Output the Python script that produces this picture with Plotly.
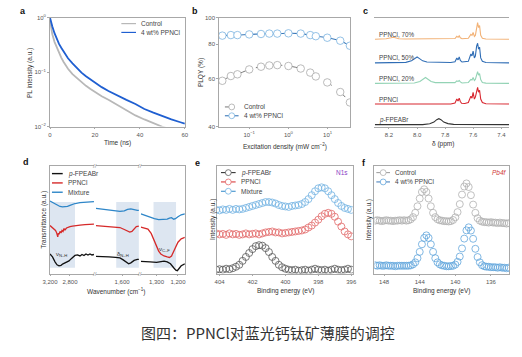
import plotly.graph_objects as go
import math

W, H = 522, 357
def px(x): return x / W
def py(y): return 1 - y / H

# ---------------- data ----------------
# (a) TRPL decay
a_time = [0, 0.5, 1, 2, 3, 4, 5, 6, 8, 10, 12, 14, 16, 18, 20, 23, 26, 30, 34, 38, 42, 46, 50, 54, 58, 60]
a_control = [0.9, 0.62, 0.50, 0.36, 0.28, 0.22, 0.185, 0.155, 0.115, 0.092, 0.077, 0.065, 0.056, 0.049, 0.043,
             0.036, 0.031, 0.025, 0.0205, 0.016, 0.0135, 0.0115, 0.0099, 0.0088, 0.0081, 0.0078]
a_ppncl = [1.0, 0.82, 0.70, 0.52, 0.41, 0.33, 0.28, 0.24, 0.18, 0.145, 0.118, 0.098, 0.084, 0.073, 0.064,
           0.053, 0.045, 0.037, 0.031, 0.026, 0.021, 0.018, 0.0155, 0.0135, 0.012, 0.0113]

# (b) PLQY vs excitation density
b_density = [0.0206, 0.034, 0.05, 0.1, 0.2, 0.325, 0.52, 1.0, 2.06, 3.6, 5.0, 9.8, 21, 37]
b_control = [58.8, 61.2, 62.1, 64.7, 66.2, 66.9, 67.1, 66.6, 65.2, 63.0, 61.0, 58.0, 53.5, 49.0]
b_ppncl = [86.0, 86.4, 86.4, 86.9, 87.2, 87.5, 87.5, 87.7, 87.5, 86.4, 85.6, 84.5, 82.4, 79.0]

# (c) 1H NMR
c_names = ["p-FPEABr", "PPNCl", "PPNCl, 20%", "PPNCl, 50%", "PPNCl, 70%"]
c_ppm = [
    [8.30, 7.96, 7.91, 7.88, 7.86, 7.845, 7.83, 7.81, 7.78, 7.74, 7.345],
    [8.30, 7.76, 7.73, 7.717, 7.708, 7.700, 7.692, 7.683, 7.66, 7.635, 7.617, 7.609, 7.601, 7.592, 7.585,
     7.576, 7.569, 7.562, 7.555, 7.547, 7.535, 7.51, 7.345],
    [8.30, 8.02, 7.98, 7.955, 7.94, 7.925, 7.90, 7.87, 7.76, 7.73, 7.717, 7.708, 7.700, 7.692, 7.68,
     7.635, 7.617, 7.609, 7.601, 7.592, 7.585, 7.576, 7.569, 7.562, 7.555, 7.547, 7.535, 7.51, 7.345],
    [8.30, 8.08, 8.04, 8.015, 8.0, 7.985, 7.96, 7.93, 7.76, 7.73, 7.717, 7.708, 7.700, 7.692, 7.68,
     7.635, 7.617, 7.609, 7.601, 7.592, 7.585, 7.576, 7.569, 7.562, 7.555, 7.547, 7.535, 7.51, 7.345],
    [8.30, 8.22, 8.185, 8.17, 8.155, 8.13, 8.08, 7.76, 7.73, 7.717, 7.708, 7.700, 7.692, 7.68,
     7.635, 7.617, 7.609, 7.601, 7.592, 7.585, 7.576, 7.569, 7.562, 7.555, 7.547, 7.535, 7.51, 7.345],
]
c_int = [
    [0, 0, 0.8, 2.5, 5, 6, 5, 2.5, 1, 0.2, 0],
    [0, 0, 1, 5, 3, 6, 2.5, 0.8, 0.5, 1.5, 8, 6, 12, 5, 7, 15, 17, 12, 14, 5, 1.5, 0.3, 0],
    [0, 0.5, 2, 4.5, 6, 4.5, 2, 0.8, 0.3, 0.8, 2.5, 2, 3, 1.5, 0.5, 1, 4, 3.5, 6, 3, 4, 9, 12, 8.5, 10, 4, 1, 0.3, 0],
    [0, 0.5, 2, 4.5, 6, 4.5, 2, 0.8, 0.3, 1, 5, 3, 6, 2.5, 0.8, 1.5, 9, 7, 12, 5, 7, 17, 20, 14, 16, 5, 1.5, 0.3, 0],
    [0, 0.5, 1.5, 2, 1.5, 0.6, 0.3, 0.3, 0.8, 3, 2, 3.5, 1.5, 0.5, 1, 5, 4, 7, 3, 4, 13, 17, 12, 14, 4, 1, 0.3, 0],
]
c_offsets = [2, 23, 44, 65, 89]

# (d) FTIR, three wavenumber windows
d_names = ["p-FPEABr", "PPNCl", "Mixture"]
d_wn1 = {
    "p-FPEABr": [3200, 3150, 3100, 3060, 3020, 2980, 2940, 2900, 2860, 2820, 2780, 2740, 2700, 2650, 2600,
                 2560, 2520, 2480, 2440, 2400, 2360, 2320],
    "PPNCl": [3200, 3150, 3120, 3090, 3070, 3055, 3045, 3035, 3020, 3000, 2980, 2960, 2940, 2920, 2900,
              2870, 2850, 2800, 2750, 2700, 2600, 2500, 2400, 2320],
    "Mixture": [3200, 3150, 3100, 3050, 3000, 2950, 2900, 2850, 2800, 2750, 2700, 2600, 2500, 2400, 2320],
}
d_tr1 = {
    "p-FPEABr": [20, 17, 12, 9, 8, 8.5, 10, 11, 12, 13, 15, 17, 18.5, 19, 18, 19.5, 18.5, 20, 19, 20, 19, 19.5],
    "PPNCl": [49, 47, 45, 44, 42, 38, 37.5, 41, 40, 43, 41.5, 44, 43, 46, 44.5, 46.5, 47, 48, 48.5, 49, 49.5,
              50, 50.5, 50.5],
    "Mixture": [74, 72.5, 71, 69.5, 68.5, 68, 68, 68.5, 69.5, 70.5, 71.5, 72.5, 73, 73.5, 73.5],
}
d_wn2 = {
    "p-FPEABr": [1720, 1690, 1660, 1630, 1610, 1595, 1580, 1570, 1560, 1545, 1530, 1523],
    "PPNCl": [1720, 1690, 1660, 1630, 1610, 1590, 1575, 1565, 1555, 1545, 1535, 1523],
    "Mixture": [1720, 1690, 1660, 1630, 1610, 1590, 1575, 1560, 1545, 1530, 1523],
}
d_tr2 = {
    "p-FPEABr": [17.5, 17.5, 17, 16.5, 16, 14, 11, 10, 11, 13.5, 14.5, 14.5],
    "PPNCl": [49, 48.5, 48, 47.5, 47, 45, 43, 42.3, 43, 46, 48, 48.5],
    "Mixture": [66.5, 65.5, 64.5, 63.5, 63.5, 64, 65.5, 66, 65, 64.5, 64.5],
}
d_wn3 = {
    "p-FPEABr": [1373, 1350, 1330, 1300, 1280, 1265, 1250, 1235, 1220, 1210, 1203, 1195, 1185, 1168],
    "PPNCl": [1373, 1350, 1340, 1325, 1310, 1300, 1290, 1280, 1265, 1250, 1240, 1230, 1220, 1210, 1200, 1185, 1168],
    "Mixture": [1373, 1350, 1330, 1310, 1290, 1270, 1250, 1240, 1230, 1220, 1212, 1200, 1185, 1168],
}
d_tr3 = {
    "p-FPEABr": [12.5, 12.5, 12, 11.5, 12, 12.8, 12, 10, 6, 3.5, 3, 5, 8, 10],
    "PPNCl": [47.5, 46.5, 45.5, 41, 33, 28, 23, 20, 18, 17, 16.5, 18, 23, 28.5, 32, 35.5, 37],
    "Mixture": [61, 59, 57.5, 56, 55, 55, 55.5, 56.5, 57, 55.5, 56, 58, 60, 61],
}
d_bands = [(3200, 2700), (1627, 1523), (1314, 1209)]
d_band_labels = ["ν<sub>N–H</sub>", "δ<sub>N–H</sub>", "ν<sub>C–F</sub>"]

# (e) XPS N1s
e_energy = [404.2, 404.0, 403.8, 403.6, 403.4, 403.2, 403.0, 402.8, 402.6, 402.4, 402.2, 402.0, 401.8, 401.6,
            401.4, 401.2, 401.0, 400.8, 400.6, 400.4, 400.2, 400.0, 399.8, 399.6, 399.4, 399.2, 399.0, 398.8,
            398.6, 398.4, 398.2, 398.0, 397.8, 397.6, 397.4, 397.2, 397.0, 396.8, 396.6, 396.4, 396.2, 396.0]
e_fpeabr = [4, 4.5, 4, 5, 4.5, 5.5, 7, 9, 13, 17, 21, 25, 28, 29, 28.5, 26, 22, 17, 13, 9, 6.5, 5, 4, 3.5, 4, 3,
            3.5, 4, 3, 4, 5, 4, 3.5, 4, 3, 4, 5, 4, 3.5, 4, 5, 4]
e_ppncl = [41, 40, 40.5, 39.5, 41, 40, 40.5, 39.5, 40, 41, 40, 40.5, 41, 40, 41, 42, 42.5, 43, 42, 42, 41, 41.5,
           42, 42.5, 43, 43.5, 44, 45, 47, 49, 52, 55, 58.5, 61, 62, 61, 58, 53, 48, 43, 40, 38]
e_mixture = [65, 64.5, 65.5, 65, 66, 65, 66, 65.5, 66, 67, 68, 69, 70, 71, 72, 73, 73, 72.5, 71.5, 70, 69, 68.5,
             68, 69, 69.5, 70, 71, 73, 76, 80, 84, 87, 88, 87, 84, 80, 76, 72, 69, 67, 66, 65]

# (f) XPS Pb4f
f_energy = [149.0, 148.75, 148.5, 148.25, 148.0, 147.75, 147.5, 147.25, 147.0, 146.75, 146.5, 146.25, 146.0,
            145.75, 145.5, 145.25, 145.0, 144.75, 144.5, 144.25, 144.0, 143.75, 143.5, 143.25, 143.0, 142.75,
            142.5, 142.25, 142.0, 141.75, 141.5, 141.25, 141.0, 140.75, 140.5, 140.25, 140.0, 139.75, 139.5,
            139.25, 139.0, 138.75, 138.5, 138.25, 138.0, 137.75, 137.5, 137.25, 137.0, 136.75, 136.5, 136.25,
            136.0, 135.75, 135.5, 135.25, 135.0, 134.75, 134.5, 134.25, 134.0]
f_control = [54, 54.5, 54, 53.5, 54, 54.5, 54, 54, 53.5, 54, 54, 54.5, 54, 54.5, 54, 54.4, 55.4, 57.6, 62, 68.7,
             76.6, 83.3, 86, 83.3, 76.6, 68.7, 62, 57.6, 55.4, 54.4, 54, 53.5, 53.5, 53.2, 53.5, 54.7, 57.4, 62.7,
             70.9, 80.6, 88.8, 92, 88.3, 80, 70.4, 62, 56.5, 54, 53, 52.5, 52.5, 52, 52.5, 52, 52, 51.5, 52, 51.5,
             51.5, 51, 51.5]
f_ppncl = [8.5, 8, 8.5, 8, 8, 8.5, 8, 8, 8, 7.5, 8, 8, 8, 8, 8, 8, 8.4, 9.4, 11.5, 15.7, 22.2, 29.9, 36.4, 39,
           36.4, 29.9, 22.2, 15.7, 11.5, 9.4, 8.4, 8, 7.5, 7.5, 7.7, 8, 9.2, 12, 17.4, 25.7, 35.7, 44.1, 47.2,
           43.9, 35.5, 25.3, 16.9, 11.5, 8.6, 7.5, 7, 7, 6.5, 6.5, 6.5, 6, 6.5, 6, 6, 5.5, 6]

# ---------------- style ----------------
FONT = "Liberation Sans, Arial, sans-serif"
TICKF = dict(family=FONT, size=6, color="#555")
LINEC = "#a8a8a8"

def axstyle(**kw):
    d = dict(showline=True, linecolor=LINEC, linewidth=0.7, ticks="outside", ticklen=2, tickwidth=0.6,
             tickcolor=LINEC, showgrid=False, zeroline=False, tickfont=TICKF, mirror=True)
    d.update(kw)
    return d

fig = go.Figure()

# (a)
fig.add_trace(go.Scatter(x=a_time, y=a_control, xaxis="x", yaxis="y", mode="lines",
                         line=dict(color="#b8b8b8", width=1.8)))
fig.add_trace(go.Scatter(x=a_time, y=a_ppncl, xaxis="x", yaxis="y", mode="lines",
                         line=dict(color="#1f5fd1", width=1.8)))

# (b)
fig.add_trace(go.Scatter(x=b_density, y=b_control, xaxis="x2", yaxis="y2", mode="lines+markers",
                         line=dict(color="#777", width=1, dash="dash", shape="spline"),
                         marker=dict(symbol="circle", size=7.5, color="white", line=dict(color="#aaa", width=0.8))))
fig.add_trace(go.Scatter(x=b_density, y=b_ppncl, xaxis="x2", yaxis="y2", mode="lines+markers",
                         line=dict(color="#3b78b8", width=1.1, shape="spline"),
                         marker=dict(symbol="circle", size=7.5, color="white", line=dict(color="#7ab3e0", width=0.8))))

# (c)
c_colors = ["#333333", "#d8262f", "#93d3b5", "#2f6db5", "#f2b277"]
for name, xs, ys, off, col in zip(c_names, c_ppm, c_int, c_offsets, c_colors):
    fig.add_trace(go.Scatter(x=xs, y=[v + off for v in ys], xaxis="x3", yaxis="y3", mode="lines",
                             line=dict(color=col, width=1.1)))

# (d)
d_colors = {"p-FPEABr": "#111111", "PPNCl": "#d62a2a", "Mixture": "#2e86c8"}
for seg, (wn, tr) in enumerate([(d_wn1, d_tr1), (d_wn2, d_tr2), (d_wn3, d_tr3)]):
    xa = "x%d" % (4 + seg)
    ya = "y%d" % (4 + seg)
    for name in d_names:
        fig.add_trace(go.Scatter(x=wn[name], y=tr[name], xaxis=xa, yaxis=ya, mode="lines",
                                 line=dict(color=d_colors[name], width=1.3)))

# (e)
for ys, col in [(e_fpeabr, "#5a5a5a"), (e_ppncl, "#e26a6a"), (e_mixture, "#72b2e2")]:
    fig.add_trace(go.Scatter(x=e_energy, y=ys, xaxis="x7", yaxis="y7", mode="markers",
                             marker=dict(symbol="circle-open", size=7, color=col, line=dict(width=0.8))))

# (f)
for ys, col in [(f_control, "#b0b0b0"), (f_ppncl, "#62a6dc")]:
    fig.add_trace(go.Scatter(x=f_energy, y=ys, xaxis="x8", yaxis="y8", mode="markers",
                             marker=dict(symbol="circle-open", size=7, color=col, line=dict(width=0.8))))

# ---------------- axes ----------------
top_row = [py(125), py(14)]
bot_row = [py(275), py(165)]
lay = dict(
    xaxis=axstyle(domain=[px(43), px(181)], range=[0, 60], tickvals=[0, 20, 40, 60], anchor="y"),
    yaxis=axstyle(domain=top_row, type="log", range=[-2, 0], tickvals=[1, 0.1, 0.01],
                  ticktext=["10<sup>0</sup>", "10<sup>−1</sup>", "10<sup>−2</sup>"], anchor="x"),
    xaxis2=axstyle(domain=[px(216), px(350)], type="log", range=[-1.77, 1.57], tickvals=[0.1, 1, 10],
                   ticktext=["10<sup>−1</sup>", "10<sup>0</sup>", "10<sup>1</sup>"], anchor="y2"),
    yaxis2=axstyle(domain=top_row, type="log", range=[math.log10(40), 2], tickvals=[40, 60, 80, 100],
                   anchor="x2"),
    xaxis3=axstyle(domain=[px(375), px(513)], range=[8.304, 7.344], tickvals=[8.2, 8.0, 7.8, 7.6, 7.4],
                   ticktext=["8.2", "8.0", "7.8", "7.6", "7.4"], anchor="y3"),
    yaxis3=dict(domain=top_row, range=[0, 111], visible=False, anchor="x3"),
    xaxis4=axstyle(domain=[px(43), px(88)], range=[3200, 2320], tickvals=[3200, 2800],
                   ticktext=["3,200", "2,800"], anchor="y4"),
    yaxis4=axstyle(domain=bot_row, range=[0, 110], ticks="", showticklabels=False, mirror=False, anchor="x4"),
    xaxis5=axstyle(domain=[px(90), px(134)], range=[1720, 1523], tickvals=[1600], ticktext=["1,600"],
                   anchor="y5"),
    yaxis5=dict(domain=bot_row, range=[0, 110], visible=False, anchor="x5"),
    xaxis6=axstyle(domain=[px(136), px(181)], range=[1373, 1168], tickvals=[1300, 1200],
                   ticktext=["1,300", "1,200"], anchor="y6"),
    yaxis6=axstyle(domain=bot_row, range=[0, 110], ticks="", showticklabels=False, mirror=False,
                   side="right", anchor="x6"),
    xaxis7=axstyle(domain=[px(214), px(353)], range=[404.15, 395.9], tickvals=[404, 402, 400, 398, 396],
                   anchor="y7"),
    yaxis7=axstyle(domain=bot_row, range=[0, 110], ticks="", showticklabels=False, anchor="x7"),
    xaxis8=axstyle(domain=[px(375), px(513)], range=[149.09, 133.95], tickvals=[148, 144, 140, 136],
                   anchor="y8"),
    yaxis8=axstyle(domain=bot_row, range=[0, 110], ticks="", showticklabels=False, anchor="x8"),
)

shapes = []
annotations = []

def ann(text, x, y, size=6.5, color="#333", angle=0, xanchor="center", yanchor="middle", family=FONT):
    annotations.append(dict(text=text, x=px(x), y=py(y), xref="paper", yref="paper", showarrow=False,
                            font=dict(family=family, size=size, color=color), textangle=angle,
                            xanchor=xanchor, yanchor=yanchor))

def hline(x0, x1, y, color, width=1.2, dash="solid"):
    shapes.append(dict(type="line", xref="paper", yref="paper", x0=px(x0), x1=px(x1), y0=py(y), y1=py(y),
                       line=dict(color=color, width=width, dash=dash)))

def circ(cx, cy, r, color, fill="white", width=0.8):
    shapes.append(dict(type="circle", xref="paper", yref="paper", x0=px(cx - r), x1=px(cx + r),
                       y0=py(cy + r), y1=py(cy - r), line=dict(color=color, width=width), fillcolor=fill))

# d shaded bands
for (w0, w1), seg in zip(d_bands, [4, 5, 6]):
    shapes.append(dict(type="rect", xref="x%d" % seg, yref="y%d" % seg, x0=w0, x1=w1, y0=6, y1=73,
                       fillcolor="#dde6f1", line=dict(width=0), layer="below"))

# panel letters
for t, x, y in [("a", 15, 7), ("b", 191, 7), ("c", 366, 7), ("d", 18, 161), ("e", 194, 162), ("f", 364, 162)]:
    ann("<b>%s</b>" % t, x, y, size=9, color="#111", xanchor="center")

# axis titles
ann("PL intensity (a.u.)", 22, 70, angle=-90)
ann("Time (ns)", 112, 142)
ann("PLQY (%)", 197, 70, angle=-90)
ann("Excitation density (mW cm<sup>−2</sup>)", 284, 145)
ann("δ (ppm)", 445, 143)
ann("Transmittance (a.u.)", 37, 220, angle=-90)
ann("Wavenumber (cm<sup>−1</sup>)", 111, 293)
ann("Intensity (a.u.)", 209, 220, angle=-90)
ann("Binding energy (eV)", 284, 293)
ann("Intensity (a.u.)", 369, 220, angle=-90)
ann("Binding energy (eV)", 444, 293)

# legend a
hline(116, 131, 20, "#b8b8b8", 1.2)
ann("Control", 134, 20, size=6.5, color="#444", xanchor="left")
hline(116, 131, 29, "#1f5fd1", 1.2)
ann("4 wt% PPNCl", 134, 29, size=6.5, color="#444", xanchor="left")

# legend b
hline(222, 236, 105, "#777", 1, "dash")
circ(229, 105, 3, "#aaa")
ann("Control", 239, 105, size=6.5, color="#444", xanchor="left")
hline(222, 236, 114, "#3b78b8", 1.1)
circ(229, 114, 3, "#7ab3e0")
ann("4 wt% PPNCl", 239, 114, size=6.5, color="#444", xanchor="left")

# labels c
for name, y_base in zip(c_names, [123, 102, 81, 60, 36]):
    ann(name if name != "p-FPEABr" else "<i>p</i>-FPEABr", 378, y_base - 5, size=6.3, color="#444",
        xanchor="left")

# legend d
for i, name in enumerate(d_names):
    y = 173 + i * 9.5
    hline(45, 56, y, d_colors[name], 1.4)
    ann(name if name != "p-FPEABr" else "<i>p</i>-FPEABr", 59, y, size=6.5, color="#444", xanchor="left")
for x0, lab, y in zip([55, 118, 160], d_band_labels, [256, 255, 250]):
    ann(lab, x0, y, size=6, color="#333")
for bx in [89, 135]:
    for by in [165, 275]:
        ann("//", bx, by, size=6, color="#888")

# legend e
for i, (name, lcol, mcol) in enumerate([("<i>p</i>-FPEABr", "#222", "#5a5a5a"), ("PPNCl", "#d62a2a", "#e26a6a"),
                                         ("Mixture", "#2e86c8", "#72b2e2")]):
    y = 172 + i * 9.5
    hline(218, 233, y, lcol, 1)
    circ(225.5, y, 3, mcol, fill="white")
    ann(name, 236, y, size=6.5, color="#444", xanchor="left")
ann("N1s", 342, 172, size=6.5, color="#8b3fc6")

# legend f
for i, (name, lcol, mcol) in enumerate([("Control", "#999", "#b0b0b0"), ("4 wt% PPNCl", "#3b78b8", "#62a6dc")]):
    y = 172 + i * 9.5
    hline(377, 391, y, lcol, 1)
    circ(384, y, 3, mcol, fill="white")
    ann(name, 394, y, size=6.5, color="#444", xanchor="left")
ann("<i>Pb4f</i>", 503, 172, size=6.5, color="#d13b3b")

# caption
ann("图四：PPNCl对蓝光钙钛矿薄膜的调控", 266, 335, size=15, color="#333", family="Noto Sans CJK SC")

fig.update_layout(width=W, height=H, margin=dict(l=0, r=0, t=0, b=0), autosize=False,
                  paper_bgcolor="white", plot_bgcolor="white", showlegend=False,
                  shapes=shapes, annotations=annotations, **lay)

fig.write_html("out.html", config={"displayModeBar": False},
               post_script="document.body.style.margin='0px';")
